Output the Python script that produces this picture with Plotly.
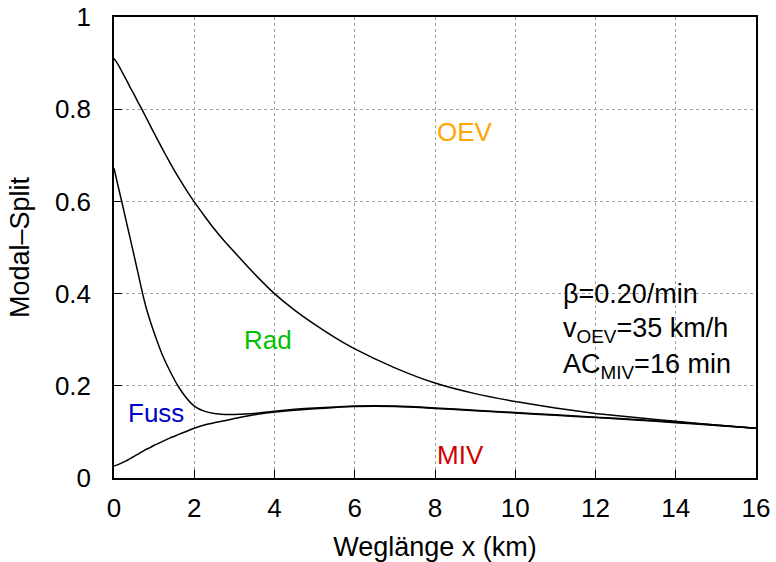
import plotly.graph_objects as go

# distance (km)
x_km = [0, 0.1, 0.2, 0.3, 0.4, 0.5, 0.6, 0.7, 0.8, 0.9, 1.0, 1.2, 1.4, 1.6, 1.8,
        2.0, 2.25, 2.5, 2.75, 3.0, 3.5, 4, 4.5, 5, 5.5, 6, 7, 8, 9, 10, 11, 12,
        13, 14, 15, 16]

# cumulative modal split: MIV (lowest boundary)
miv = [0.026, 0.029, 0.033, 0.037, 0.042, 0.047, 0.052, 0.057, 0.062, 0.066,
       0.071, 0.079, 0.087, 0.094, 0.101, 0.108, 0.115, 0.120, 0.124, 0.129,
       0.137, 0.143, 0.147, 0.150, 0.153, 0.155, 0.155, 0.151, 0.146, 0.141,
       0.136, 0.131, 0.126, 0.120, 0.114, 0.108]

# MIV + Fuss
miv_fuss = [0.672, 0.634, 0.597, 0.559, 0.521, 0.483, 0.444, 0.405, 0.370, 0.341,
            0.315, 0.268, 0.231, 0.199, 0.174, 0.156, 0.145, 0.140, 0.138, 0.138,
            0.140, 0.145, 0.149, 0.152, 0.154, 0.156, 0.156, 0.152, 0.147, 0.142,
            0.137, 0.132, 0.127, 0.121, 0.115, 0.108]

# MIV + Fuss + Rad
miv_fuss_rad = [0.910, 0.897, 0.881, 0.865, 0.848, 0.832, 0.815, 0.799, 0.782, 0.765,
                0.748, 0.715, 0.683, 0.653, 0.625, 0.599, 0.569, 0.540, 0.514, 0.490,
                0.443, 0.400, 0.364, 0.333, 0.305, 0.280, 0.239, 0.206, 0.183, 0.166,
                0.152, 0.140, 0.131, 0.123, 0.115, 0.108]

x_ticks = [0, 2, 4, 6, 8, 10, 12, 14, 16]
y_ticks = [0, 0.2, 0.4, 0.6, 0.8, 1]
y_tick_labels = ["0", "0.2", "0.4", "0.6", "0.8", "1"]

FONT = "Liberation Sans, Arial, Helvetica, sans-serif"
FS_TICK = 26
FS_TITLE = 27
FS_LABEL = 26

fig = go.Figure()
for ys in (miv, miv_fuss, miv_fuss_rad):
    fig.add_trace(go.Scatter(x=x_km, y=ys, mode="lines",
                             line=dict(color="black", width=1.5, shape="spline", smoothing=0.5),
                             showlegend=False, hoverinfo="skip"))

labels = [
    ("OEV", 8.0, 0.75, "#ffa500"),
    ("Rad", 3.2, 0.30, "#00c000"),
    ("Fuss", 0.3, 0.14, "#0000c8"),
    ("MIV", 8.0, 0.05, "#d00000"),
]
for txt, xx, yy, col in labels:
    fig.add_annotation(x=xx, y=yy, text=txt, showarrow=False, xanchor="left",
                       yanchor="middle", font=dict(color=col, size=FS_LABEL, family=FONT))

params = [
    ("β=0.20/min", 0.40),
    ("v<sub>OEV</sub>=35 km/h", 0.322),
    ("AC<sub>MIV</sub>=16 min", 0.244),
]
for txt, yy in params:
    fig.add_annotation(x=11.15, y=yy, text=txt, showarrow=False, xanchor="left",
                       yanchor="middle", font=dict(color="black", size=FS_TITLE, family=FONT))

axis_common = dict(showline=True, linecolor="black", linewidth=1.5, mirror=True,
                   ticks="inside", ticklen=8, tickcolor="black", tickwidth=1,
                   showgrid=True, gridcolor="#a0a0a0", gridwidth=1, griddash="dot",
                   zeroline=False, automargin=False, ticklabeloverflow="allow",
                   tickfont=dict(size=FS_TICK, family=FONT, color="black"))

fig.update_xaxes(range=[0, 16], tickvals=x_ticks, ticklabelstandoff=6,
                 title=dict(text="Weglänge x (km)", font=dict(size=FS_TITLE, family=FONT, color="black"),
                            standoff=24),
                 **axis_common)
fig.update_yaxes(range=[0, 1], tickvals=y_ticks, ticktext=y_tick_labels, ticklabelstandoff=16,
                 title=dict(text="Modal–Split", font=dict(size=FS_TITLE, family=FONT, color="black"),
                            standoff=17),
                 **axis_common)

fig.update_layout(width=776, height=562, margin=dict(l=114, r=20, t=17, b=84),
                  plot_bgcolor="white", paper_bgcolor="white",
                  font=dict(family=FONT, size=FS_TICK, color="black"))

# remove the default page margin so the figure fills the window exactly
fig.write_html("out.html", config={"displayModeBar": False},
               post_script="document.body.style.margin='0';")
